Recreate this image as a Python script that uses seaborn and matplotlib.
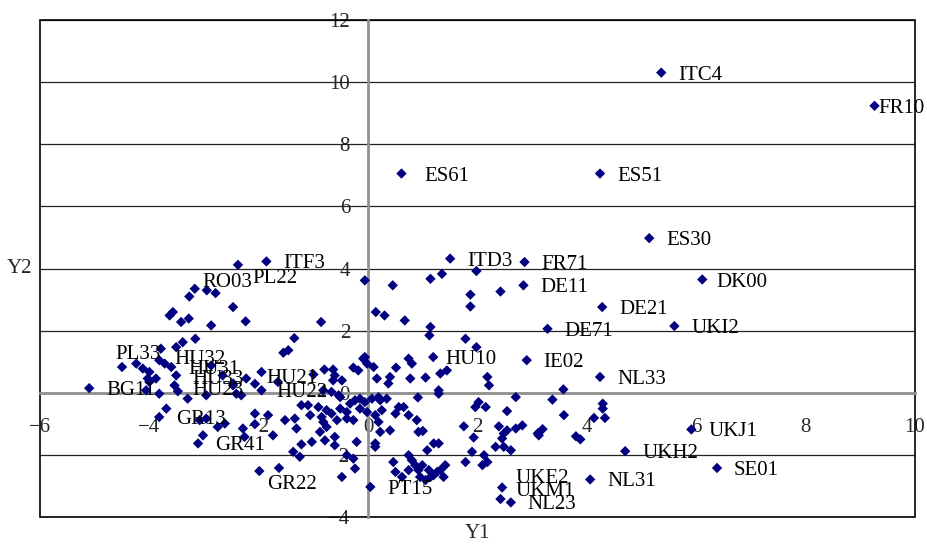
import pandas as pd
import matplotlib.pyplot as plt
import seaborn as sns
from matplotlib.patches import Rectangle

# --- Data: labelled regions ---
lab_names = ["FR10", "ITC4", "ES61", "ES51", "ES30", "FR71", "DE11", "DK00", "DE21", "UKI2",
             "DE71", "IE02", "NL33", "UKJ1", "UKH2", "SE01", "NL31", "UKE2", "UKM1", "NL23",
             "PT15", "GR22", "GR41", "GR13", "BG11", "PL33", "HU32", "HU31", "HU33", "HU23",
             "HU21", "HU22", "HU10", "ITD3", "ITF3", "PL22", "RO03"]
lab_x = [9.26, 5.36, 0.61, 4.24, 5.14, 2.86, 2.84, 6.11, 4.28, 5.60,
         3.28, 2.90, 4.24, 5.91, 4.70, 6.38, 4.06, 2.45, 2.42, 2.61,
         0.04, -1.99, -3.11, -3.82, -5.10, -4.50, -3.82, -3.60, -3.51, -3.54,
         -2.23, -1.95, 1.19, 1.50, -1.86, -2.38, -3.17]
lab_y = [9.24, 10.31, 7.06, 7.06, 4.98, 4.21, 3.46, 3.65, 2.76, 2.15,
         2.06, 1.05, 0.51, -1.18, -1.88, -2.42, -2.79, -3.05, -3.42, -3.53,
         -3.03, -2.52, -1.63, -0.78, 0.15, 0.83, 1.05, 0.83, 0.56, 0.24,
         0.46, 0.08, 1.15, 4.32, 4.23, 4.12, 3.35]

# --- Data: unlabelled regions ---
other_x = [-3.27, -2.95, -2.79, -2.47, -3.57, -3.63, -3.42, -3.28, -2.87, -2.24,
           -3.16, -3.39, -3.51, -3.79, -3.72, -4.24, -4.12, -4.00, -3.88, -4.03,
           -4.00, -4.06, -3.82, -3.30, -2.96, -2.87, -2.66, -2.47, -2.41, -3.69,
           -3.02, -3.08, -2.96, -2.75, -2.62, -3.48,
           -0.86, -1.35, -1.46, -1.55, -0.06, 0.14, -1.95, -1.00, -0.80, -0.64,
           -0.61, -0.48, -0.27, -0.18, -0.09, -0.02, 0.10, 0.16, -2.07, -2.32,
           -2.47, -1.65, -0.82, -0.67, -0.51, -1.22, -1.10, -0.91, -0.76, -1.06,
           -0.85, -0.67, -0.51, -0.39, -0.33, -0.24, -0.15, -0.06, 0.07, 0.22,
           -0.15, -0.02, -0.39, -0.27, 0.13, 0.25, -2.07, -1.83, -1.52, -1.34,
           -1.31, -0.82, -0.76, -0.88, -0.79, -0.61, -1.03, -1.74, -2.29, -2.26,
           -0.21, 0.13, 0.22, -2.07, -1.22, -1.37, -1.25, -0.61, -0.39, -0.27,
           -0.24, -0.48, -1.63, -0.57, -0.54, -0.64,
           0.45, 1.14, 1.35, 1.98, 2.42, 1.87, 1.87, 0.30, 0.67, 1.14,
           1.12, 1.78, 1.98, -0.06, 0.51, 0.74, 0.80, 1.32, 1.44, 2.18,
           0.40, 0.77, 1.05, 2.21, 1.29, 1.29, 0.91, 0.37, 0.19, 0.34,
           0.19, 0.13, 0.40, 0.50, 0.56, 0.65, 0.74, 0.89, 0.92, 1.00,
           1.20, 1.29, 1.08, 0.74, 0.80, 0.46, 0.50, 0.62, 0.74, 0.86,
           0.92, 0.99, 0.95, 1.11, 1.14, 1.20, 1.05, 1.26, 1.38, 1.41,
           1.32, 1.96, 2.02, 2.15, 2.54, 2.70, 1.75, 1.93, 2.39, 2.48,
           2.54, 2.70, 2.82, 2.45, 2.33, 2.48, 2.61, 1.90, 1.78, 2.12,
           2.18, 2.09, 3.10, 3.57, 3.37, 3.58, 3.19, 3.12, 3.80, 3.88,
           4.29, 4.29, 4.13, 4.33]
other_y = [3.10, 3.30, 3.21, 2.76, 2.60, 2.49, 2.28, 2.39, 2.17, 2.30,
           1.74, 1.63, 1.47, 1.42, 0.94, 0.94, 0.78, 0.67, 0.46, 0.46,
           0.35, 0.08, -0.03, -0.19, -0.08, 0.88, 0.56, 0.30, -0.03, -0.51,
           -1.37, -0.88, -0.83, -1.10, -0.99, 0.05,
           2.28, 1.76, 1.37, 1.29, 3.62, 2.60, 0.67, 0.59, 0.75, 0.75,
           0.56, 0.40, 0.81, 0.72, 1.10, 0.94, 0.83, 0.46, 0.29, -0.08,
           0.24, 0.35, 0.08, 0.03, -0.14, -0.40, -0.40, -0.46, -0.56, -0.72,
           -0.78, -0.67, -0.51, -0.62, -0.35, -0.24, -0.19, -0.30, -0.19, -0.24,
           -0.51, -0.62, -0.83, -0.88, -0.72, -0.56, -0.67, -0.72, -0.88, -0.83,
           -1.15, -0.94, -1.10, -1.26, -1.53, -1.42, -1.58, -1.37, -1.15, -1.42,
           -1.58, -1.63, -1.26, -1.01, -1.66, -1.90, -2.06, -1.69, -2.01, -2.12,
           -2.44, -2.71, -2.42, -0.88, -0.08, 0.40,
           3.46, 3.67, 3.83, 3.92, 3.26, 3.16, 2.78, 2.49, 2.33, 2.12,
           1.85, 1.74, 1.47, 1.15, 0.81, 1.10, 0.94, 0.62, 0.72, 0.51,
           0.51, 0.46, 0.49, 0.24, 0.08, -0.03, -0.15, 0.30, -0.14, -0.19,
           -0.94, -1.74, -1.21, -0.67, -0.46, -0.46, -0.72, -0.88, -1.26, -1.23,
           -1.63, -1.63, -1.85, -2.01, -2.17, -2.23, -2.55, -2.71, -2.49, -2.33,
           -2.49, -2.33, -2.71, -2.49, -2.71, -2.65, -2.81, -2.55, -2.71, -2.33,
           -2.49, -0.46, -0.30, -0.46, -0.59, -0.14, -1.08, -1.44, -1.08, -1.31,
           -1.21, -1.15, -1.05, -1.47, -1.74, -1.74, -1.85, -1.90, -2.23, -2.01,
           -2.23, -2.33, -1.31, 0.11, -0.22, -0.72, -1.17, -1.37, -1.40, -1.50,
           -0.35, -0.51, -0.81, -0.81]

df = pd.DataFrame({'Y1': lab_x + other_x, 'Y2': lab_y + other_y})

# label placement tweaks (pixels, right / up); everything else sits to the right
default_offset = (17, 0)
label_offsets = {
    'FR10': (4, 0), 'ES61': (23, 0),
    'PL33': (-7, 15), 'RO03': (8, 9), 'PL22': (14, -11), 'HU32': (15, 3),
    'HU33': (16, -2), 'HU23': (18, -3), 'GR22': (8, -11), 'UKE2': (13, 12),
    'UKM1': (15, 10), 'HU21': (20, 3), 'HU22': (15, 0), 'HU10': (12, 0),
    'DK00': (14, -1),
}

# --- Plot ---
sns.set_style('white')
plt.rcParams['font.family'] = ['Liberation Serif', 'DejaVu Serif']

fig, ax = plt.subplots(figsize=(9.28, 5.44), dpi=100)
fig.subplots_adjust(left=0.0431, right=0.986, bottom=0.0496, top=0.963)

sns.scatterplot(data=df, x='Y1', y='Y2', marker='D', s=28, color='#000080',
                edgecolor='none', linewidth=0, ax=ax, zorder=3)

for name, x, y in zip(lab_names, lab_x, lab_y):
    dx, dy = label_offsets.get(name, default_offset)
    ax.annotate(name, (x, y), xytext=(dx, dy), textcoords='offset pixels',
                ha='left', va='center_baseline', fontsize=15, color='black',
                zorder=4, annotation_clip=False)

ax.set_xlim(-6, 10)
ax.set_ylim(-4, 12)
ax.set_xticks(range(-6, 11, 2))
ax.set_yticks(range(-4, 13, 2))
ax.set_axisbelow(True)
ax.yaxis.grid(True, color='#222222', linewidth=0.9)
ax.xaxis.grid(False)

# axes crossing at the origin
for side in ['left', 'bottom']:
    ax.spines[side].set_position(('data', 0))
    ax.spines[side].set_color('#909090')
    ax.spines[side].set_linewidth(2)
for side in ['top', 'right']:
    ax.spines[side].set_visible(False)
ax.add_patch(Rectangle((0, 0), 1, 1, transform=ax.transAxes, fill=False,
                       edgecolor='black', linewidth=1.2, clip_on=False, zorder=1))

ax.tick_params(axis='x', direction='out', length=5, width=1.5, color='#909090',
               pad=13, labelsize=15)
ax.tick_params(axis='y', direction='out', length=6, width=1.5, color='#909090',
               pad=7, labelsize=15)

ax.set_xlabel('Y1', fontsize=15, va='center')
ax.xaxis.set_label_coords(0.5, -0.034)
ax.set_ylabel('Y2', fontsize=15, rotation=0, va='center', ha='center')
ax.yaxis.set_label_coords(-0.023, 0.5)

fig.savefig('out.png', dpi=100)
